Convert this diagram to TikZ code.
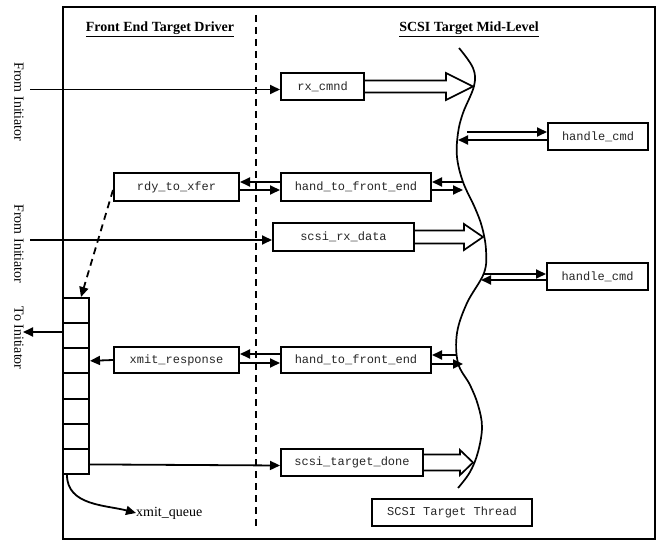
\documentclass[tikz,border=0pt]{standalone}
\usepackage{fontspec}
\setmainfont{Liberation Serif}
\newfontfamily\monofnt{Liberation Mono}
\usetikzlibrary{arrows.meta,calc}
\tikzset{
  lw/.style={line width=1.7pt},
  box/.style={draw, line width=2pt, inner sep=0pt, font=\monofnt\fontsize{12}{14}\selectfont, text=black!85, fill=white},
  cell/.style={draw, line width=2pt, inner sep=0pt, minimum width=26pt, minimum height=25.14pt},
  arr/.style={line width=1.8pt, -{Triangle[length=10pt,width=9pt]}},
  hollow/.style={line width=1.7pt, fill=white, line join=miter},
  heading/.style={font=\bfseries\fontsize{14}{16}\selectfont},
  sidelabel/.style={font=\fontsize{14}{16}\selectfont, rotate=-90},
}
\newcommand\hollowarr[5]{%
  \draw[hollow] let \p1=(#1.east) in (\x1,\y1+#4pt) -- (#2pt,\y1+#4pt) -- (#2pt,\y1+#5pt) -- (#3pt,\y1) -- (#2pt,\y1-#5pt) -- (#2pt,\y1-#4pt) -- (\x1,\y1-#4pt);}
\begin{document}
\begin{tikzpicture}[x=1pt,y=-1pt]
\useasboundingbox (0,0) rectangle (658,540);
% frame and divider
\draw[line width=2pt] (63,7) rectangle (655,539);
\draw[line width=1.8pt, dash pattern=on 7pt off 5pt] (256,15) -- (256,527);
% headings
\node[heading] (h1) at (160,29) {\underline{Front End Target Driver}};
\node[heading] (h2) at (469,29) {\underline{SCSI Target Mid-Level}};
% side labels
\node[sidelabel] (l1) at (19,102) {From Initiator};
\node[sidelabel] (l2) at (19,244) {From Initiator};
\node[sidelabel] (l3) at (19,338) {To Initiator};
% wave (SCSI target thread)
\draw[lw] plot[smooth, tension=0.6] coordinates {(459,48) (473,68) (474,86) (463,113) (458,133) (457,157) (463,182) (475,208) (482,227) (486,250) (484,273) (467,303) (457,333) (458,363) (470,385) (478,405) (482,427) (478,452) (470,472) (458,488)};
% boxes
\node[box, minimum width=83pt, minimum height=27pt] (rx) at (322.5,86.5) {rx\_cmnd};
\node[box, minimum width=100pt, minimum height=27pt] (hc1) at (598,136.5) {handle\_cmd};
\node[box, minimum width=125pt, minimum height=28pt] (rdy) at (176.5,187) {rdy\_to\_xfer};
\node[box, minimum width=150pt, minimum height=28pt] (hfe1) at (356,187) {hand\_to\_front\_end};
\node[box, minimum width=141pt, minimum height=28pt] (srd) at (343.5,237) {scsi\_rx\_data};
\node[box, minimum width=101pt, minimum height=27pt] (hc2) at (597.5,276.5) {handle\_cmd};
\node[box, minimum width=125pt, minimum height=26pt] (xmit) at (176.5,360) {xmit\_response};
\node[box, minimum width=150pt, minimum height=26pt] (hfe2) at (356,360) {hand\_to\_front\_end};
\node[box, minimum width=142pt, minimum height=27pt] (std) at (352,462.5) {scsi\_target\_done};
\node[box, minimum width=160pt, minimum height=27pt] (stt) at (452,512.5) {SCSI Target Thread};
% queue
\foreach \i in {1,...,7} {
  \node[cell] (q\i) at (76,{298+25.14*(\i-0.5)}) {};
}
\node[font=\fontsize{14}{16}\selectfont, inner sep=0pt, anchor=west] (xq) at (136,513) {xmit\_queue};
% hollow arrows
\hollowarr{rx}{446}{473}{6}{13.5}
\hollowarr{srd}{464}{483}{6.5}{13}
\hollowarr{std}{460}{473}{8}{12.5}
% coordinates
\coordinate (fi1) at (30,89.5);
\coordinate (fi2) at (30,240);
\coordinate (toI) at (23,332);
\coordinate (w1a) at (467,132);
\coordinate (w1b) at (458,140);
\coordinate (w2a) at (463,182);
\coordinate (w2b) at (463,190);
\coordinate (w3a) at (483,274);
\coordinate (w3b) at (481,280);
\coordinate (w4a) at (457,355);
\coordinate (w4b) at (463,364);
% connectors
\draw[arr] (fi1) -- (fi1 -| rx.west);
\draw[arr] (fi2) -- (fi2 -| srd.west);
\draw[arr] (q2.west |- toI) -- (toI);
\draw[arr] (w1a) -- (w1a -| hc1.west);
\draw[arr] (w1b -| hc1.west) -- (w1b);
\draw[arr] (w2a) -- (w2a -| hfe1.east);
\draw[arr] (w2b -| hfe1.east) -- (w2b);
\draw[arr] (w3a) -- (w3a -| hc2.west);
\draw[arr] (w3b -| hc2.west) -- (w3b);
\draw[arr] (w4a) -- (w4a -| hfe2.east);
\draw[arr] (w4b -| hfe2.east) -- (w4b);
\draw[arr] ([yshift=5pt]hfe1.west) -- ([yshift=5pt]rdy.east);
\draw[arr] ([yshift=-3pt]rdy.east) -- ([yshift=-3pt]hfe1.west);
\draw[arr] ([yshift=6pt]hfe2.west) -- ([yshift=6pt]xmit.east);
\draw[arr] ([yshift=-3pt]xmit.east) -- ([yshift=-3pt]hfe2.west);
\draw[arr, dash pattern=on 7pt off 5pt] ([yshift=-3pt]rdy.west) -- ([xshift=5pt]q1.north);
\draw[arr] (xmit.west) -- (q3.east);
\draw[arr] ([yshift=-3pt]q7.east) -- ([yshift=-3pt]std.west);
\draw[arr] ([xshift=-9pt]q7.south) to[out=-90,in=165] (xq.west);
\end{tikzpicture}
\end{document}
